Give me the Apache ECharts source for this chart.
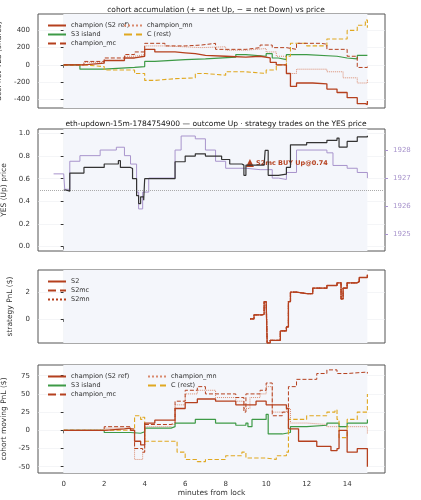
<!DOCTYPE html>
<html><head><meta charset="utf-8">
<script src="https://cdn.jsdelivr.net/npm/echarts@6/dist/echarts.min.js"></script>
<style>body{margin:0;background:#fff}#c{width:421px;height:500px}</style>
</head><body><div id="c"></div>
<script>
// ---- data (minutes from lock, value) ----
var xTicks = [0, 2, 4, 6, 8, 10, 12, 14];

var accChampion = [[0,0],[1,20],[2,50],[3,80],[3.5,100],[4,180],[4.5,150],[5.5,140],[6,130],[6.5,110],[7,100],[8,90],[9,100],[9.7,80],[10.2,30],[10.5,0],[11,-100],[11.2,-250],[11.5,-210],[12.3,-220],[13,-280],[13.5,-320],[14,-380],[14.5,-450],[14.9,-460],[15,-420]];
var accMc = [[0,0],[1,40],[2,80],[3,120],[3.5,150],[4,250],[5,220],[6,230],[6.8,250],[7.5,180],[9,200],[9.7,230],[10.3,200],[11,180],[11.5,250],[12.7,240],[13,180],[14,100],[14.5,-30],[15,-20]];
var accMn = [[0,0],[1,30],[2,60],[3,100],[3.5,120],[4,220],[5,200],[6.8,210],[8,170],[9,190],[10,150],[10.5,100],[11,-100],[11.5,-50],[12,-50],[13,-80],[13.8,-150],[14.5,-210],[15,-170]];
var accS3 = [[0,0],[0.8,-50],[2,-30],[3.5,-20],[4,40],[4.5,60],[6,70],[7,90],[8.5,120],[9,100],[10,130],[10.3,80],[10.6,60],[11,120],[12,100],[13.5,80],[14,70],[14.5,110],[15,110]];
var accRest = [[0,0],[1,-20],[2,-60],[3.5,-100],[4,-180],[4.5,-160],[5.5,-150],[6.5,-100],[7,-120],[8,-80],[9,-100],[10,-60],[10.5,0],[11,100],[11.2,250],[12,220],[13,300],[14,400],[14.5,460],[14.9,520],[15,430]];

var yesPrice = [[0,0.5],[0.1,0.49],[0.3,0.65],[1,0.7],[2,0.73],[2.7,0.76],[2.8,0.7],[3.3,0.69],[3.4,0.6],[3.6,0.45],[3.7,0.38],[3.8,0.44],[3.95,0.41],[4,0.6],[5.3,0.6],[5.5,0.75],[6,0.8],[6.5,0.82],[7,0.8],[7.8,0.77],[8.2,0.73],[8.8,0.72],[8.9,0.63],[9,0.72],[9.9,0.72],[9.95,0.85],[10.1,0.63],[10.6,0.64],[11,0.7],[11.2,0.9],[12,0.92],[13,0.94],[13.5,0.96],[13.6,0.88],[14,0.93],[14.5,0.97],[15,0.98]];
var ethUsd = [[-0.5,1927.15],[0,1927.1],[0.05,1926.6],[0.3,1927.6],[0.8,1927.8],[1.8,1928.0],[2.6,1928.1],[3,1927.8],[3.3,1927.5],[3.6,1926.5],[3.7,1925.9],[3.9,1926.5],[4.2,1927.0],[5.3,1927.0],[5.5,1928.0],[5.8,1928.5],[6.5,1928.4],[7,1928.0],[7.5,1927.6],[8,1927.35],[9,1927.3],[9.7,1927.3],[10.3,1927.0],[10.6,1926.95],[11,1927.2],[11.5,1928.0],[13,1927.9],[13.3,1927.45],[14,1927.35],[14.5,1927.2],[15,1927.0]];
var trade = [9.2, 0.74];

var pnlS2 = [[9.2,0],[9.4,0.3],[9.8,0.35],[9.9,1.3],[10,1.2],[10.05,-1.8],[10.2,-1.6],[10.6,-1.6],[10.7,-0.9],[11,-0.6],[11.1,1.3],[11.2,2.0],[11.5,1.9],[12,1.9],[12.3,2.3],[13,2.5],[13.5,2.7],[13.7,1.5],[13.8,2.3],[14,2.7],[14.5,2.8],[14.6,3.1],[15,3.3]];

var mpChampion = [[0,0],[2,2],[3,3],[3.3,0],[3.5,-15],[3.8,-20],[4,10],[4.5,14],[5.3,14],[5.5,30],[6,38],[6.6,43],[7.5,40],[8.5,35],[9,35],[9.5,40],[10,35],[11,30],[11.1,2],[11.6,-15],[12.5,-22],[13.2,-28],[13.5,-25],[13.6,0],[14,-30],[14.5,-25],[14.9,-25],[15,-50]];
var mpMc = [[0,0],[2,5],[3.3,2],[3.5,-25],[3.9,-30],[4,8],[5.3,10],[5.5,40],[6,55],[6.6,60],[7,50],[8.5,45],[8.9,25],[9,50],[9.7,55],[10,65],[10.3,20],[10.8,25],[11.1,60],[11.5,70],[12.5,78],[13,83],[13.5,78],[14,80],[15,78]];
var mpMn = [[0,0],[2,3],[3.3,1],[3.5,-40],[3.9,-30],[4,5],[5.3,8],[5.5,35],[6,50],[6.6,55],[7.5,45],[8.5,40],[8.9,30],[9.2,45],[9.7,50],[10,60],[10.3,25],[11,30],[11.2,10],[12,8],[13,5],[14,5],[14.9,5],[15,-5]];
var mpS3 = [[0,0],[2,-3],[3.3,-4],[3.8,-2],[4,3],[5.3,5],[5.5,10],[6.5,15],[7.5,10],[8.5,7],[9,10],[9.1,5],[9.3,15],[10,22],[10.1,-5],[10.8,-3],[11.2,5],[12,7],[13,10],[13.6,5],[14,10],[14.9,10],[15,15]];
var mpRest = [[0,0],[3.2,0],[3.5,20],[3.8,15],[3.9,18],[4,-15],[5.3,-15],[5.6,-30],[6,-40],[6.6,-43],[7,-40],[8,-35],[8.8,-30],[9,-38],[10,-40],[10.5,-35],[11,-30],[11.1,15],[11.6,15],[12,20],[13,25],[13.4,28],[13.5,15],[13.6,-10],[14,15],[14.5,25],[15,50]];

var C_CH = '#b5401e', C_MN = '#d98a6e', C_S3 = '#3d9a46', C_REST = '#e0a820', C_ETH = '#a894cc';
var font = 'DejaVu Sans';
var grids = [
  {left: 38, top: 14, width: 347, height: 94},
  {left: 38, top: 129, width: 347, height: 122},
  {left: 38, top: 270, width: 347, height: 73},
  {left: 38, top: 365, width: 347, height: 108}
];
grids.forEach(function (g) {
  g.show = true; g.borderColor = '#555'; g.borderWidth = 1; g.backgroundColor = '#fff';
  g.containLabel = false; g.outerBoundsMode = 'none';
});

function xAx(i) {
  return {
    type: 'value', gridIndex: i, min: -1.27, max: 15.87,
    axisLine: {show: false},
    axisTick: {show: true, customValues: xTicks, length: 3, lineStyle: {color: '#333'}},
    axisLabel: {show: i === 3, customValues: xTicks, fontSize: 7, color: '#333', fontFamily: font},
    splitLine: {show: true, lineStyle: {color: '#eceef2', width: 0.6}},
    name: i === 3 ? 'minutes from lock' : '', nameLocation: 'middle', nameGap: 14,
    nameTextStyle: {fontSize: 7.5, color: '#333', fontFamily: font}
  };
}
function yAx(i, min, max, ticks, name, extra) {
  var a = {
    type: 'value', gridIndex: i, min: min, max: max,
    axisLine: {show: false},
    axisTick: {show: true, customValues: ticks, length: 3, lineStyle: {color: '#333'}},
    axisLabel: {customValues: ticks, fontSize: 7, color: '#333', fontFamily: font},
    splitLine: {show: true, lineStyle: {color: '#eceef2', width: 0.6}},
    name: name, nameLocation: 'middle', nameGap: 24, nameRotate: 90,
    nameTextStyle: {fontSize: 7.5, color: '#333', fontFamily: font}
  };
  for (var k in extra) a[k] = extra[k];
  return a;
}
function line(name, data, xi, color, type, width, extra) {
  var s = {
    name: name, type: 'line', xAxisIndex: xi, yAxisIndex: xi, data: data,
    step: 'end', symbol: 'none', animation: false,
    lineStyle: {color: color, type: type, width: width}, itemStyle: {color: color}
  };
  for (var k in extra) s[k] = extra[k];
  return s;
}
function shade() {
  return {silent: true, itemStyle: {color: '#f4f6fb'}, data: [[{xAxis: 0}, {xAxis: 15}]]};
}
function legend(top, left, names) {
  return {top: top, left: left, orient: 'vertical', itemWidth: 18, itemHeight: 8, itemGap: 2,
    itemStyle: {opacity: 0},
    textStyle: {fontSize: 6.5, color: '#333', fontFamily: font}, data: names};
}

var yAxes = [
  yAx(0, -500, 590, [-400, -200, 0, 200, 400], 'acc. net YES (shares)', {}),
  yAx(1, -0.04, 1.04, [0, 0.2, 0.4, 0.6, 0.8, 1.0], 'YES (Up) price', {axisLabel: {customValues: [0, 0.2, 0.4, 0.6, 0.8, 1.0], fontSize: 7, color: '#333', fontFamily: font, formatter: function (v) { return v.toFixed(1); }}}),
  yAx(1, 1924.4, 1928.75, [1925, 1926, 1927, 1928], 'ETH/USD (strike dotted = YES 0.5)', {
    position: 'right', splitLine: {show: false}, nameGap: 26, nameRotate: -90,
    nameTextStyle: {fontSize: 7, color: C_ETH, fontFamily: font},
    axisLabel: {customValues: [1925, 1926, 1927, 1928], fontSize: 7, color: C_ETH, fontFamily: font, formatter: function (v) { return String(v); }},
    axisTick: {show: true, customValues: [1925, 1926, 1927, 1928], length: 3, lineStyle: {color: C_ETH}}
  }),
  yAx(2, -1.8, 3.66, [0, 2], 'strategy PnL ($)', {}),
  yAx(3, -58.6, 89.7, [-50, -25, 0, 25, 50, 75], 'cohort moving PnL ($)', {})
];

var series = [
  line('champion (S2 ref)', accChampion, 0, C_CH, 'solid', 1.3, {markArea: shade(), z: 5}),
  line('champion_mn', accMn, 0, C_MN, 'dotted', 1, {}),
  line('S3 island', accS3, 0, C_S3, 'solid', 1.2, {}),
  line('C (rest)', accRest, 0, C_REST, 'dashed', 1.1, {}),
  line('champion_mc', accMc, 0, C_CH, 'dashed', 1, {}),
  {name: 'eth', type: 'line', xAxisIndex: 1, yAxisIndex: 2, data: ethUsd, step: 'end', symbol: 'none', animation: false,
   lineStyle: {color: C_ETH, width: 1}, markArea: shade()},
  line('YES', yesPrice, 1, '#333', 'solid', 1.2, {z: 5,
    markLine: {silent: true, symbol: 'none', label: {show: false}, lineStyle: {color: '#aaa', type: 'dotted', width: 1}, data: [{yAxis: 0.5}]},
    markPoint: {symbol: 'triangle', symbolSize: 8, itemStyle: {color: C_CH},
      label: {show: true, position: 'right', distance: 2, formatter: 'S2mc BUY Up@0.74', fontSize: 6.5, fontWeight: 'bold', color: C_CH, fontFamily: font},
      data: [{coord: trade}]}}),
  line('S2mn', pnlS2, 2, C_CH, 'dotted', 1.2, {markArea: shade(), xAxisIndex: 2, yAxisIndex: 3}),
  line('S2mc', pnlS2, 2, C_CH, 'dashed', 1.2, {xAxisIndex: 2, yAxisIndex: 3}),
  line('S2', pnlS2, 2, C_CH, 'solid', 1.3, {xAxisIndex: 2, yAxisIndex: 3}),
  line('champion (S2 ref)', mpChampion, 3, C_CH, 'solid', 1.3, {markArea: shade(), xAxisIndex: 3, yAxisIndex: 4, z: 5}),
  line('champion_mn', mpMn, 3, C_MN, 'dotted', 1, {xAxisIndex: 3, yAxisIndex: 4}),
  line('S3 island', mpS3, 3, C_S3, 'solid', 1.2, {xAxisIndex: 3, yAxisIndex: 4}),
  line('C (rest)', mpRest, 3, C_REST, 'dashed', 1.1, {xAxisIndex: 3, yAxisIndex: 4}),
  line('champion_mc', mpMc, 3, C_CH, 'dashed', 1, {xAxisIndex: 3, yAxisIndex: 4})
];

var option = {
  backgroundColor: '#fff',
  title: [
    {text: 'cohort accumulation (+ = net Up, \u2212 = net Down) vs price', left: 211, top: 1, textAlign: 'center',
     textStyle: {fontSize: 7.5, fontWeight: 'normal', color: '#222', fontFamily: font}},
    {text: 'eth-updown-15m-1784754900 \u2014 outcome Up \u00b7 strategy trades on the YES price', left: 211, top: 115, textAlign: 'center',
     textStyle: {fontSize: 7.5, fontWeight: 'normal', color: '#111', fontFamily: font}}
  ],
  grid: grids,
  xAxis: [xAx(0), xAx(1), xAx(2), xAx(3)],
  yAxis: yAxes,
  legend: [
    legend(17, 42, ['champion (S2 ref)', 'S3 island', 'champion_mc']),
    legend(17, 118, ['champion_mn', 'C (rest)']),
    legend(273, 42, ['S2', 'S2mc', 'S2mn']),
    legend(368, 42, ['champion (S2 ref)', 'S3 island', 'champion_mc']),
    legend(368, 142, ['champion_mn', 'C (rest)'])
  ],
  series: series
};
var myChart = echarts.init(document.getElementById('c'));
myChart.setOption(option);
</script></body></html>
